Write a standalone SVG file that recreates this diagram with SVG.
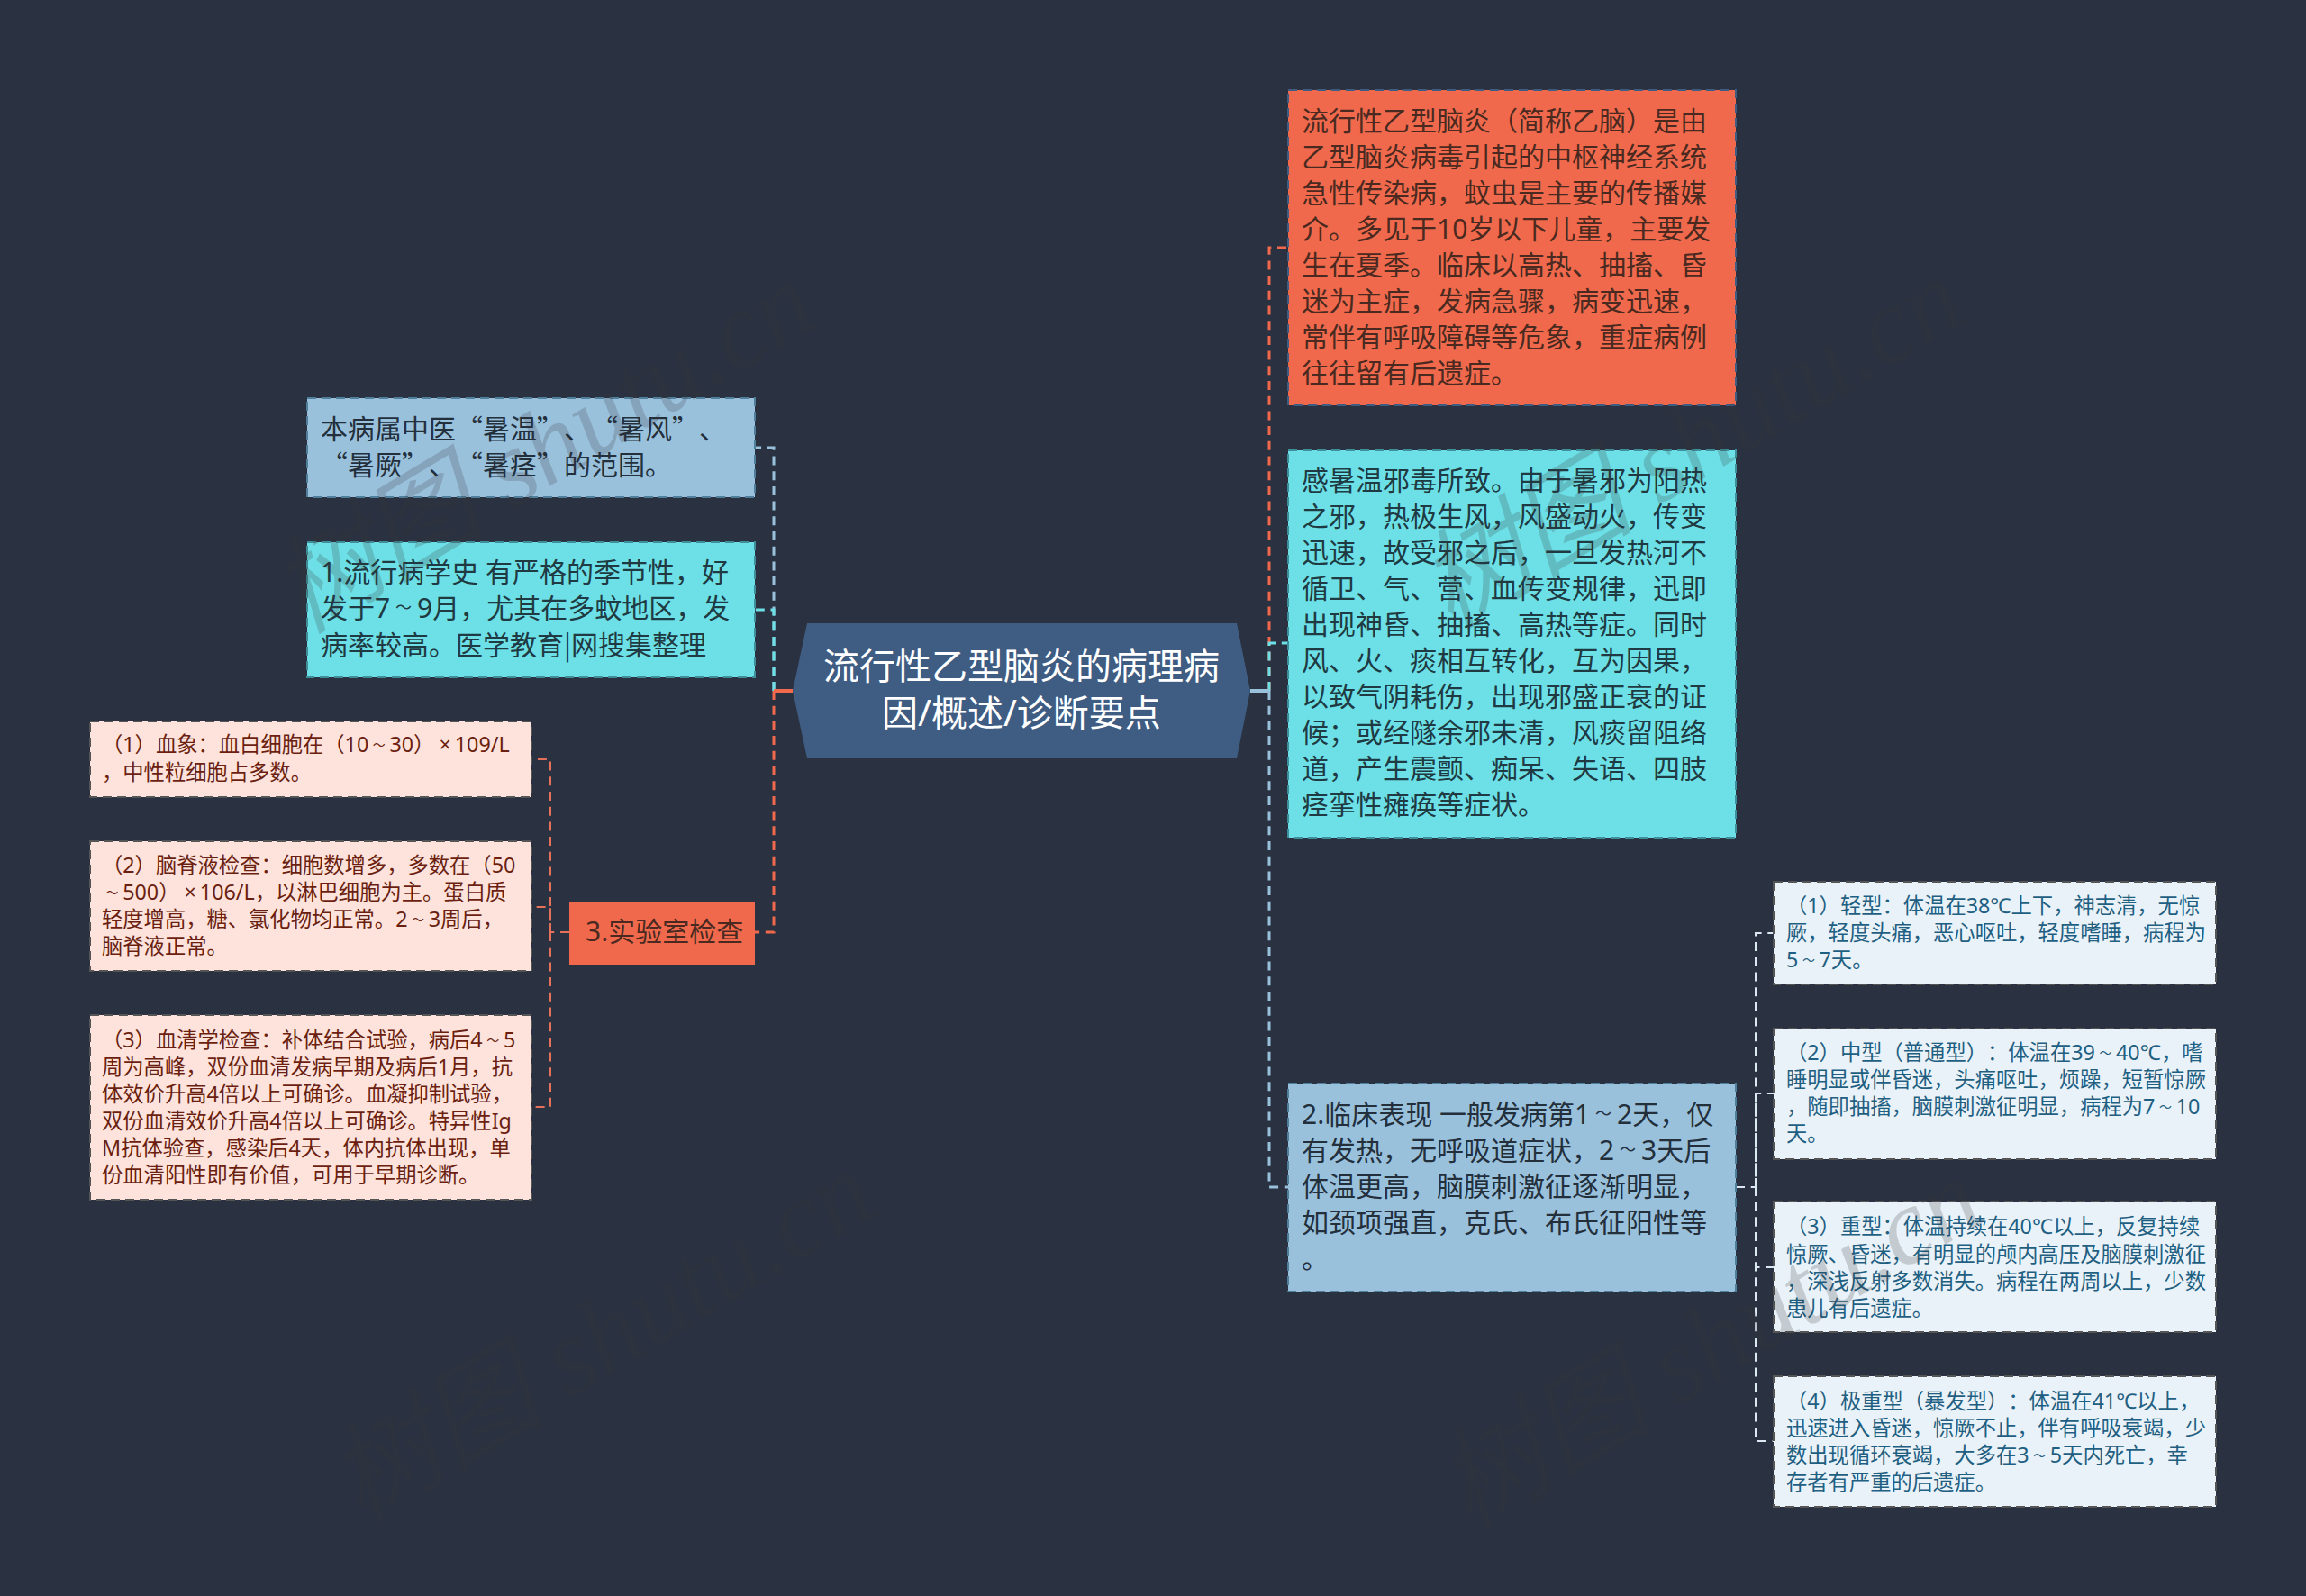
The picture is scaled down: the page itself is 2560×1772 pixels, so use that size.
<svg xmlns="http://www.w3.org/2000/svg" width="2560" height="1772" viewBox="0 0 2560 1772">
<style>
text{font-family:"Noto Sans","Noto Sans CJK SC",sans-serif;dominant-baseline:central;text-spacing-trim:space-all}
.q{font-family:"Noto Sans CJK SC",sans-serif}
.n{stroke-width:2;stroke-dasharray:10 6}
.c{fill:none;stroke-width:3;stroke-dasharray:10 6.7}
.d{fill:none;stroke-width:2;stroke-dasharray:10 6.7}
.t30{font-size:30px}.t24{font-size:23.3px}
.w{font-size:.6em;letter-spacing:.33em}
.wm{font-family:"Liberation Serif","Noto Sans CJK SC",serif;font-style:italic;font-size:120px;fill:#373237;opacity:.2;dominant-baseline:auto}
</style>
<rect width="2560" height="1772" fill="#2a3241"/>
<g id="connectors">
<path class="c" stroke="#9ac1dc" d="M859 767V497H838"/>
<path class="c" stroke="#6ce0e6" d="M859 767V677H838"/>
<path class="c" stroke="#f0694c" d="M859 767V1035H838"/>
<path d="M880 767H859" fill="none" stroke="#f0694c" stroke-width="4"/>
<path class="c" stroke="#f0694c" d="M1409 767V275H1430"/>
<path class="c" stroke="#6ce0e6" d="M1409 767V714H1430"/>
<path class="c" stroke="#9ac1dc" d="M1409 767V1318H1430"/>
<path d="M1388 767H1409" fill="none" stroke="#9ac1dc" stroke-width="4"/>
<path class="d" stroke="#e5715a" d="M632 1035H611V843H590"/>
<path class="d" stroke="#e5715a" d="M611 1035V1007H590"/>
<path class="d" stroke="#e5715a" d="M611 1035V1229H590"/>
<path class="d" stroke="#dce8f1" d="M1927 1318H1949V1036H1969"/>
<path class="d" stroke="#dce8f1" d="M1949 1318V1214H1969"/>
<path class="d" stroke="#dce8f1" d="M1949 1318V1407H1969"/>
<path class="d" stroke="#dce8f1" d="M1949 1318V1600H1969"/>
</g>
<g id="root"><polygon points="880,767 896,692 1373,692 1388,767 1373,842 896,842" fill="#3f5c82"/>
<text x="1134" y="738" font-size="40" fill="#fff" text-anchor="middle">流行性乙型脑炎的病理病</text>
<text x="1134" y="790" font-size="40" fill="#fff" text-anchor="middle">因/概述/诊断要点</text></g>
<g id="n-orange"><rect class="n" x="1430" y="100" width="497" height="350" fill="#f0694c" stroke="#3f5c82"/>
<g class="t30" fill="#4a2a20"><text x="1445" y="133">流行性乙型脑炎（简称乙脑）是由</text><text x="1445" y="173">乙型脑炎病毒引起的中枢神经系统</text><text x="1445" y="213">急性传染病，蚊虫是主要的传播媒</text><text x="1445" y="253">介。多见于10岁以下儿童，主要发</text><text x="1445" y="293">生在夏季。临床以高热、抽搐、昏</text><text x="1445" y="333">迷为主症，发病急骤，病变迅速，</text><text x="1445" y="373">常伴有呼吸障碍等危象，重症病例</text><text x="1445" y="413">往往留有后遗症。</text></g></g>
<g id="n-cyan-right"><rect class="n" x="1430" y="500" width="497" height="430" fill="#6ce0e6" stroke="#3f8f9a"/>
<g class="t30" fill="#1f3a42"><text x="1445" y="532">感暑温邪毒所致。由于暑邪为阳热</text><text x="1445" y="572">之邪，热极生风，风盛动火，传变</text><text x="1445" y="612">迅速，故受邪之后，一旦发热河不</text><text x="1445" y="652">循卫、气、营、血传变规律，迅即</text><text x="1445" y="692">出现神昏、抽搐、高热等症。同时</text><text x="1445" y="732">风、火、痰相互转化，互为因果，</text><text x="1445" y="772">以致气阴耗伤，出现邪盛正衰的证</text><text x="1445" y="812">候；或经隧余邪未清，风痰留阻络</text><text x="1445" y="852">道，产生震颤、痴呆、失语、四肢</text><text x="1445" y="892">痉挛性瘫痪等症状。</text></g></g>
<g id="n-blue-right"><rect class="n" x="1430" y="1203" width="497" height="231" fill="#9ac1dc" stroke="#4f7f9a"/>
<g class="t30" fill="#23303c"><text x="1445" y="1236">2.临床表现 一般发病第1<tspan class="w" dx=".33em">～</tspan>2天，仅</text><text x="1445" y="1276">有发热，无呼吸道症状，2<tspan class="w" dx=".33em">～</tspan>3天后</text><text x="1445" y="1316">体温更高，脑膜刺激征逐渐明显，</text><text x="1445" y="1356">如颈项强直，克氏、布氏征阳性等</text><text x="1445" y="1396">。</text></g></g>
<g id="n-blue-left"><rect class="n" x="341" y="442" width="497" height="110" fill="#9ac1dc" stroke="#4f7f9a"/>
<g class="t30" fill="#23303c"><text class="q" x="356" y="474">本病属中医“暑温”、“暑风”、</text><text class="q" x="356" y="514">“暑厥”、“暑痉”的范围。</text></g></g>
<g id="n-cyan-left"><rect class="n" x="341" y="602" width="497" height="150" fill="#6ce0e6" stroke="#3f8f9a"/>
<g class="t30" fill="#1f3a42"><text x="356" y="634">1.流行病学史 有严格的季节性，好</text><text x="356" y="674">发于7<tspan class="w" dx=".33em">～</tspan>9月，尤其在多蚊地区，发</text><text class="q" x="356" y="714">病率较高。医学教育|网搜集整理</text></g></g>
<g id="n-lab"><rect x="632" y="1001" width="206" height="70" fill="#f0694c"/><text class="t30" x="650" y="1033" fill="#4a2a20">3.实验室检查</text></g>
<g id="n-lab1"><rect class="n" x="100" y="801" width="490" height="84" fill="#fde3dc" stroke="#555"/>
<g class="t24" fill="#6b1f10"><text x="113" y="826">（1）血象：血白细胞在（10<tspan class="w" dx=".33em">～</tspan>30）<tspan dx="5">×</tspan><tspan dx="4">109/L</tspan></text><text x="113" y="857">，中性粒细胞占多数。</text></g></g>
<g id="n-lab2"><rect class="n" x="100" y="934" width="490" height="144" fill="#fde3dc" stroke="#555"/>
<g class="t24" fill="#6b1f10"><text x="113" y="960">（2）脑脊液检查：细胞数增多，多数在（50</text><text x="113" y="990"><tspan class="w" dx=".33em">～</tspan>500）<tspan dx="5">×</tspan><tspan dx="4">106/L，以淋巴细胞为主。蛋白质</tspan></text><text x="113" y="1020">轻度增高，糖、氯化物均正常。2<tspan class="w" dx=".33em">～</tspan>3周后，</text><text x="113" y="1050">脑脊液正常。</text></g></g>
<g id="n-lab3"><rect class="n" x="100" y="1127" width="490" height="205" fill="#fde3dc" stroke="#555"/>
<g class="t24" fill="#6b1f10"><text x="113" y="1154">（3）血清学检查：补体结合试验，病后4<tspan class="w" dx=".33em">～</tspan>5</text><text x="113" y="1184">周为高峰，双份血清发病早期及病后1月，抗</text><text x="113" y="1214">体效价升高4倍以上可确诊。血凝抑制试验，</text><text x="113" y="1244">双份血清效价升高4倍以上可确诊。特异性Ig</text><text x="113" y="1274">M抗体验查，感染后4天，体内抗体出现，单</text><text x="113" y="1304">份血清阳性即有价值，可用于早期诊断。</text></g></g>
<g id="n-cl1"><rect class="n" x="1969" y="979" width="491" height="114" fill="#e9f2f8" stroke="#555"/>
<g class="t24" fill="#1f5f82"><text x="1983" y="1005">（1）轻型：体温在38℃上下，神志清，无惊</text><text x="1983" y="1035">厥，轻度头痛，恶心呕吐，轻度嗜睡，病程为</text><text x="1983" y="1065">5<tspan class="w" dx=".33em">～</tspan>7天。</text></g></g>
<g id="n-cl2"><rect class="n" x="1969" y="1142" width="491" height="145" fill="#e9f2f8" stroke="#555"/>
<g class="t24" fill="#1f5f82"><text x="1983" y="1168">（2）中型（普通型）：体温在39<tspan class="w" dx=".33em">～</tspan>40℃，嗜</text><text x="1983" y="1198">睡明显或伴昏迷，头痛呕吐，烦躁，短暂惊厥</text><text x="1983" y="1228">，随即抽搐，脑膜刺激征明显，病程为7<tspan class="w" dx=".33em">～</tspan>10</text><text x="1983" y="1258">天。</text></g></g>
<g id="n-cl3"><rect class="n" x="1969" y="1334" width="491" height="145" fill="#e9f2f8" stroke="#555"/>
<g class="t24" fill="#1f5f82"><text x="1983" y="1361">（3）重型：体温持续在40℃以上，反复持续</text><text x="1983" y="1392">惊厥、昏迷，有明显的颅内高压及脑膜刺激征</text><text x="1983" y="1422">，深浅反射多数消失。病程在两周以上，少数</text><text x="1983" y="1452">患儿有后遗症。</text></g></g>
<g id="n-cl4"><rect class="n" x="1969" y="1528" width="491" height="145" fill="#e9f2f8" stroke="#555"/>
<g class="t24" fill="#1f5f82"><text x="1983" y="1555">（4）极重型（暴发型）：体温在41℃以上，</text><text x="1983" y="1585">迅速进入昏迷，惊厥不止，伴有呼吸衰竭，少</text><text x="1983" y="1615">数出现循环衰竭，大多在3<tspan class="w" dx=".33em">～</tspan>5天内死亡，幸</text><text x="1983" y="1645">存者有严重的后遗症。</text></g></g>
<g id="watermarks">
<text class="wm" transform="translate(335 705) rotate(-31)">树图 shutu.cn</text>
<text class="wm" transform="translate(1610 700) rotate(-31)">树图 shutu.cn</text>
<text class="wm" transform="translate(400 1692) rotate(-31)">树图 shutu.cn</text>
<text class="wm" transform="translate(1630 1700) rotate(-31)">树图 shutu.cn</text>
</g>
</svg>
